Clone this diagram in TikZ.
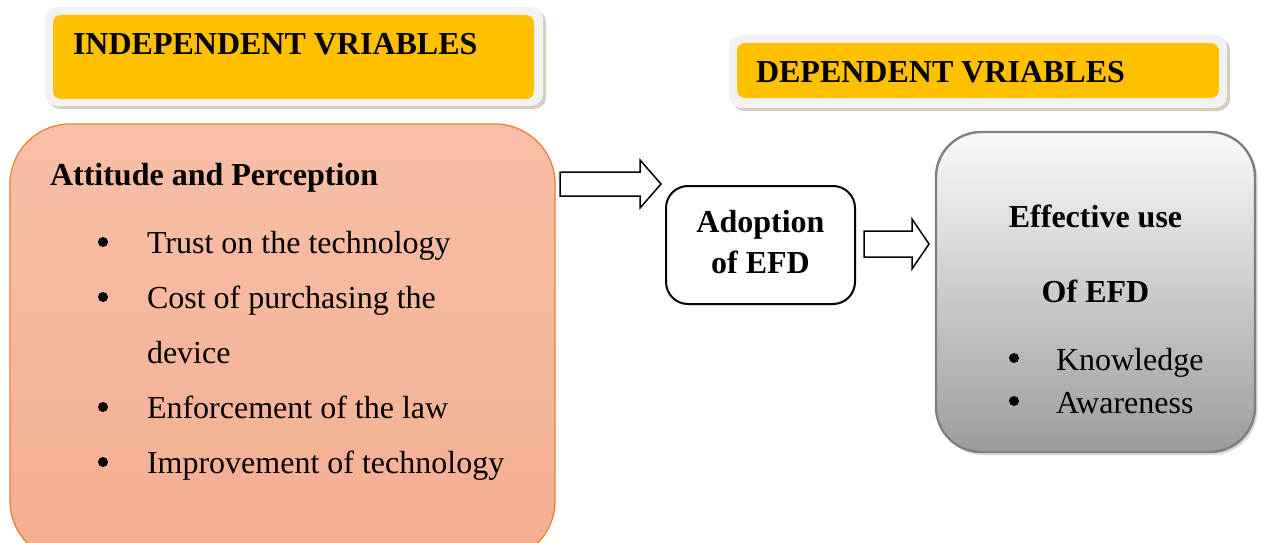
\documentclass[tikz,border=0pt]{standalone}
\usepackage{fontspec}
\setmainfont{Liberation Serif}
\definecolor{hdr}{HTML}{FFC000}
\definecolor{frameg}{HTML}{F2F2F2}
\definecolor{shadowc}{HTML}{C4BAA2}
\definecolor{orangetop}{HTML}{F8BFA7}
\definecolor{orangebot}{HTML}{F4AE92}
\definecolor{orangeline}{HTML}{ED7D31}
\definecolor{effline}{HTML}{7F7F7F}
\definecolor{efftop}{HTML}{FAFAFA}
\definecolor{effbot}{HTML}{9C9C9C}
\definecolor{effshadow}{HTML}{DADADA}
\begin{document}
\begin{tikzpicture}[x=1pt,y=-1pt,
  font=\fontsize{32}{38}\selectfont,
  hshadow/.style={fill=shadowc, rounded corners=12pt, inner sep=0pt, outer sep=0pt, opacity=0.7},
  hframe/.style={fill=frameg, rounded corners=12pt, inner sep=0pt, outer sep=0pt},
  hfill/.style={fill=hdr, rounded corners=8pt, inner sep=0pt, outer sep=0pt},
  txt/.style={anchor=base west, inner sep=0pt, outer sep=0pt},
  ctxt/.style={anchor=base, inner sep=0pt, outer sep=0pt},
  bul/.style={circle, fill=black, inner sep=0pt, outer sep=0pt, minimum size=10pt},
  blockarrow/.style={draw=black, fill=white, line width=1.5pt, line join=miter}
]
\useasboundingbox (0,0) rectangle (1264,543);
\clip (0,0) rectangle (1264,543);

% independent header
\node[hshadow, minimum width=498pt, minimum height=99pt] (indshadow) at (297,59.5) {};
\node[hframe, minimum width=498pt, minimum height=99pt] (indframe) at (294,56.5) {};
\node[hfill, minimum width=481pt, minimum height=84pt] (indfill) at (293.5,57) {};
\node[txt] (indtxt) at (73,55) {\bfseries INDEPENDENT VRIABLES};

% dependent header
\node[hshadow, minimum width=498pt, minimum height=73pt] (depshadow) at (981,74.5) {};
\node[hframe, minimum width=498pt, minimum height=73pt] (depframe) at (978,71.5) {};
\node[hfill, minimum width=482pt, minimum height=55pt] (depfill) at (978,70.5) {};
\node[txt] (deptxt) at (756,82) {\bfseries DEPENDENT VRIABLES};

% attitude box
\node[draw=orangeline, line width=1.2pt, top color=orangetop, bottom color=orangebot,
  rounded corners=60pt, inner sep=0pt, minimum width=545pt, minimum height=437pt] (att) at (282.5,342.5) {};
\node[txt] (atttitle) at (50,185) {\bfseries Attitude and Perception};
\node[bul] (b1) at (103,242) {};
\node[txt] (t1) at (147,253) {Trust on the technology};
\node[bul] (b2) at (103,297) {};
\node[txt] (t2) at (147,308) {Cost of purchasing the};
\node[txt] (t2b) at (147,363) {device};
\node[bul] (b3) at (103,407) {};
\node[txt] (t3) at (147,418) {Enforcement of the law};
\node[bul] (b4) at (103,462) {};
\node[txt] (t4) at (147,473) {Improvement of technology};

% adoption box
\node[draw=black, line width=2pt, fill=white, rounded corners=22pt, inner sep=0pt,
  minimum width=189pt, minimum height=118pt] (adopt) at (760.5,245) {};
\node[ctxt] (ad1) at (760.5,232) {\bfseries Adoption};
\node[ctxt] (ad2) at (760.5,273) {\bfseries of EFD};

% effective box
\node[fill=effshadow, rounded corners=45pt, inner sep=0pt,
  minimum width=319pt, minimum height=320pt] (effshadow) at (1098,295) {};
\node[draw=effline, line width=2.4pt, top color=efftop, bottom color=effbot,
  rounded corners=45pt, inner sep=0pt, minimum width=319pt, minimum height=320pt] (eff) at (1095.5,292) {};
\node[ctxt] (ef1) at (1095.5,227) {\bfseries Effective use};
\node[ctxt] (ef2) at (1095.5,302) {\bfseries Of EFD};
\node[bul] (eb1) at (1014,358) {};
\node[txt] (et1) at (1056,370) {Knowledge};
\node[bul] (eb2) at (1014,401) {};
\node[txt] (et2) at (1056,413) {Awareness};

% block arrows
\draw[blockarrow] (560,172) -- (640,172) -- (640,160) -- (661,184) -- (640,208) -- (640,196) -- (560,196) -- cycle;
\draw[blockarrow] (864,231) -- (912,231) -- (912,219) -- (929,244) -- (912,269) -- (912,257) -- (864,257) -- cycle;
\end{tikzpicture}
\end{document}
